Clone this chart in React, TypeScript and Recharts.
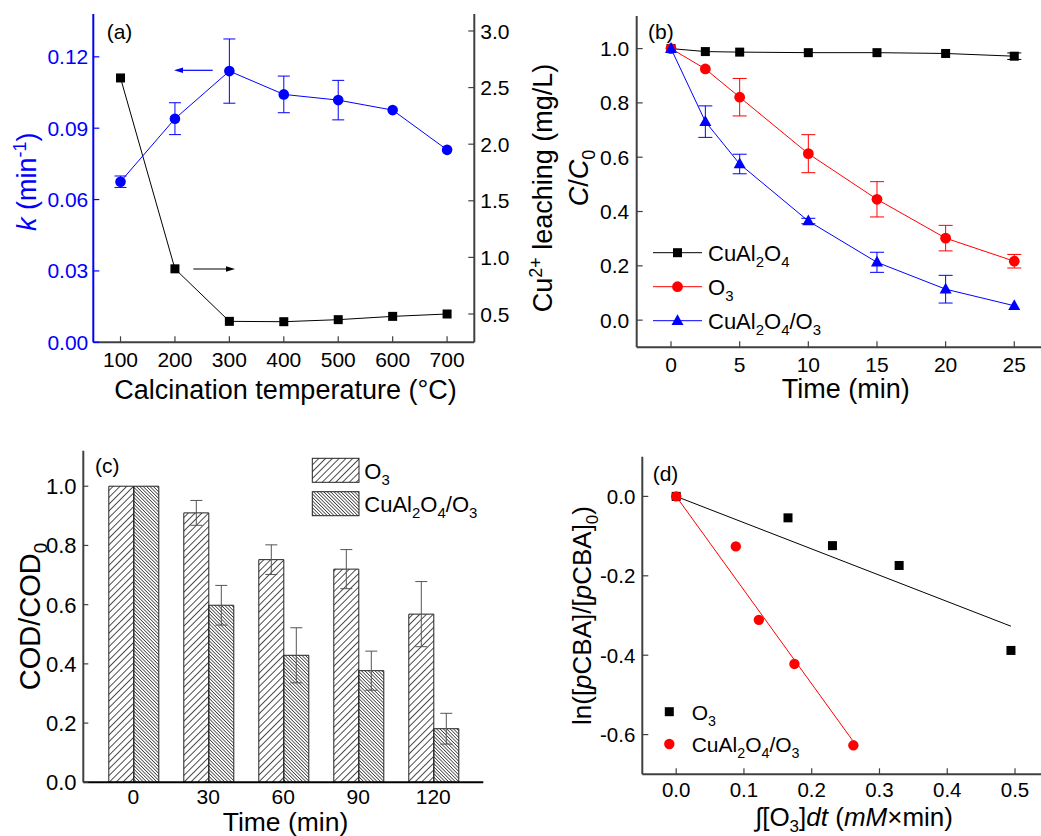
import React from 'react';
import { LineChart, Line, XAxis, YAxis, ErrorBar, BarChart, Bar, ComposedChart, Scatter } from 'recharts';

const FONT = '"Liberation Sans", Arial, Helvetica, sans-serif';
const FRAME = '#404040';
const BLUE = '#0000ff';
const RED = '#ff0000';

// ---------- Panel (a) ----------
const tempC = [100, 200, 300, 400, 500, 600, 700];
const kValues = [0.0675, 0.094, 0.114, 0.1042, 0.1018, 0.0976, 0.0809];
const kErrors = [0.0024, 0.0067, 0.0135, 0.0077, 0.0083, 0, 0];
const cuLeach = [2.585, 0.899, 0.435, 0.432, 0.45, 0.479, 0.5];
const tempTicks = [100, 200, 300, 400, 500, 600, 700];
const kTicks = [0, 0.03, 0.06, 0.09, 0.12];
const cuTicks = [0.5, 1.0, 1.5, 2.0, 2.5, 3.0];

// ---------- Panel (b) ----------
const timeB = [0, 2.5, 5, 10, 15, 20, 25];
const cuAlOnly = [1.0, 0.989, 0.987, 0.985, 0.985, 0.982, 0.972];
const cuAlOnlyErr = [0, 0, 0, 0, 0, 0, 0.012];
const o3Only = [1.0, 0.925, 0.821, 0.613, 0.445, 0.302, 0.217];
const o3OnlyErr = [0, 0, 0.069, 0.07, 0.065, 0.047, 0.025];
const cuO3 = [1.0, 0.731, 0.575, 0.365, 0.213, 0.114, 0.053];
const cuO3Err = [0, 0.058, 0.036, 0.01, 0.037, 0.051, 0];
const timeBTicks = [0, 5, 10, 15, 20, 25];
const ccTicks = [0, 0.2, 0.4, 0.6, 0.8, 1.0];

// ---------- Panel (c) ----------
const timeC = ['0', '30', '60', '90', '120'];
const codO3 = [1.0, 0.91, 0.752, 0.72, 0.568];
const codO3Err = [0, 0.042, 0.05, 0.066, 0.11];
const codCu = [1.0, 0.598, 0.429, 0.377, 0.181];
const codCuErr = [0, 0.067, 0.093, 0.066, 0.052];
const codTicks = [0, 0.2, 0.4, 0.6, 0.8, 1.0];

// ---------- Panel (d) ----------
const o3X = [0, 0.165, 0.2306, 0.329, 0.494];
const o3Y = [0, -0.054, -0.124, -0.174, -0.388];
const cuX = [0, 0.088, 0.122, 0.1745, 0.2615];
const cuY = [0, -0.126, -0.311, -0.422, -0.627];
const o3FitX = [0, 0.494];
const o3FitY = [0, -0.327];
const cuFitX = [0, 0.26];
const cuFitY = [0, -0.614];
const expTicks = [0, 0.1, 0.2, 0.3, 0.4, 0.5];
const lnTicks = [0, -0.2, -0.4, -0.6];

const dataA = tempC.map((t, i) => ({ t, k: kValues[i], kErr: kErrors[i], cu: cuLeach[i] }));
const dataB = timeB.map((t, i) => ({
  t,
  a: cuAlOnly[i], aE: cuAlOnlyErr[i],
  o: o3Only[i], oE: o3OnlyErr[i],
  c: cuO3[i], cE: cuO3Err[i],
}));
const dataC = timeC.map((t, i) => ({ t, o3: codO3[i], o3E: codO3Err[i], cu: codCu[i], cuE: codCuErr[i] }));
const o3Pts = o3X.map((x, i) => ({ x, y: o3Y[i] }));
const cuPts = cuX.map((x, i) => ({ x, y: cuY[i] }));
const o3Fit = o3FitX.map((x, i) => ({ x, y: o3FitY[i] }));
const cuFit = cuFitX.map((x, i) => ({ x, y: cuFitY[i] }));

type Side = 'bottom' | 'left' | 'right';
function tickFactory(side: Side, fmt: (v: any) => string, opts: { len?: number; gap?: number; color?: string; lineColor?: string; fontSize?: number } = {}) {
  const { len = 6, gap = 6, color = '#000', lineColor = FRAME, fontSize = 21 } = opts;
  return (props: any) => {
    const { x, y, payload, index } = props;
    const s = fmt(payload?.value);
    if (side === 'bottom') {
      return (
        <g key={`tb${index}`}>
          {len > 0 && <line x1={x} y1={y} x2={x} y2={y - len} stroke={lineColor} strokeWidth={1.2} />}
          <text x={x} y={y + gap} textAnchor="middle" fill={color} fontSize={fontSize} fontFamily={FONT}>{s}</text>
        </g>
      );
    }
    if (side === 'left') {
      return (
        <g key={`tl${index}`}>
          {len > 0 && <line x1={x} y1={y} x2={x + len} y2={y} stroke={lineColor} strokeWidth={1.2} />}
          <text x={x - gap} y={y} dy="0.36em" textAnchor="end" fill={color} fontSize={fontSize} fontFamily={FONT}>{s}</text>
        </g>
      );
    }
    return (
      <g key={`tr${index}`}>
        {len > 0 && <line x1={x} y1={y} x2={x - len} y2={y} stroke={lineColor} strokeWidth={1.2} />}
        <text x={x + gap} y={y} dy="0.36em" textAnchor="start" fill={color} fontSize={fontSize} fontFamily={FONT}>{s}</text>
      </g>
    );
  };
}

const f0 = (v: any) => String(v);
const f1 = (v: any) => Number(v).toFixed(1);
const f2 = (v: any) => Number(v).toFixed(2);

const squareDot = (size: number, color: string) => (p: any) => {
  if (p.cx == null || p.cy == null) return <g key={`n${p.index}`} />;
  return <rect key={`s${p.index}`} x={p.cx - size / 2} y={p.cy - size / 2} width={size} height={size} fill={color} />;
};
const circleDot = (r: number, color: string) => (p: any) => {
  if (p.cx == null || p.cy == null) return <g key={`n${p.index}`} />;
  return <circle key={`c${p.index}`} cx={p.cx} cy={p.cy} r={r} fill={color} />;
};
const triDot = (w: number, color: string) => (p: any) => {
  if (p.cx == null || p.cy == null) return <g key={`n${p.index}`} />;
  const h = w * 0.9;
  const pts = `${p.cx},${p.cy - h * 0.6} ${p.cx - w / 2},${p.cy + h * 0.4} ${p.cx + w / 2},${p.cy + h * 0.4}`;
  return <polygon key={`t${p.index}`} points={pts} fill={color} />;
};

const frameLine = { stroke: FRAME, strokeWidth: 2 };

function F({ parts, fs }: { parts: (string | [string])[]; fs: number }) {
  const out: any[] = [];
  let down = false;
  const d = Math.round(fs * 0.28);
  parts.forEach((p, i) => {
    if (Array.isArray(p)) {
      out.push(<tspan key={i} dy={down ? 0 : d} fontSize={fs * 0.68}>{p[0]}</tspan>);
      down = true;
    } else {
      out.push(<tspan key={i} dy={down ? -d : 0} fontSize={fs}>{p}</tspan>);
      down = false;
    }
  });
  return <>{out}</>;
}

function PanelA() {
  return (
    <LineChart width={540} height={410} data={dataA} margin={{ top: 14, right: 0, bottom: 0, left: 0 }}>
      <XAxis dataKey="t" type="number" domain={[50, 750]} ticks={tempTicks} interval={0} height={67.7}
        tickSize={0} tickMargin={0} tickLine={false} axisLine={frameLine}
        tick={tickFactory('bottom', f0, { gap: 24.6 })} allowDataOverflow />
      <XAxis xAxisId="top" dataKey="t" type="number" domain={[50, 750]} orientation="top" height={0}
        tick={false} tickLine={false} axisLine={frameLine} allowDataOverflow />
      <YAxis yAxisId="k" type="number" domain={[0, 0.138]} ticks={kTicks} interval={0} width={93.3}
        tickSize={0} tickMargin={0} tickLine={false} axisLine={{ stroke: BLUE, strokeWidth: 2 }}
        tick={tickFactory('left', f2, { gap: 5, color: BLUE, lineColor: BLUE })} allowDataOverflow />
      <YAxis yAxisId="cu" orientation="right" type="number" domain={[0.25, 3.15]} ticks={cuTicks} interval={0} width={65.7}
        tickSize={0} tickMargin={0} tickLine={false} axisLine={frameLine}
        tick={tickFactory('right', f1, { gap: 6 })} allowDataOverflow />
      <Line yAxisId="cu" dataKey="cu" stroke="#000" strokeWidth={1} dot={squareDot(9, '#000')} activeDot={false} isAnimationActive={false} />
      <Line yAxisId="k" dataKey="k" stroke={BLUE} strokeWidth={1} dot={circleDot(5.3, BLUE)} activeDot={false} isAnimationActive={false}>
        <ErrorBar dataKey="kErr" direction="y" width={6} stroke={BLUE} strokeWidth={1} />
      </Line>
    </LineChart>
  );
}

function PanelB() {
  return (
    <LineChart width={540} height={410} data={dataB} margin={{ top: 16, right: 11.4, bottom: 0, left: 0 }}>
      <XAxis dataKey="t" type="number" domain={[-2.5, 27.5]} ticks={timeBTicks} interval={0} height={62.7}
        tickSize={0} tickMargin={0} tickLine={false} axisLine={frameLine}
        tick={tickFactory('bottom', f0, { gap: 24.6 })} allowDataOverflow />
      <XAxis xAxisId="top" dataKey="t" type="number" domain={[-2.5, 27.5]} orientation="top" height={0}
        tick={false} tickLine={false} axisLine={frameLine} allowDataOverflow />
      <YAxis type="number" domain={[-0.1, 1.12]} ticks={ccTicks} interval={0} width={116.7}
        tickSize={0} tickMargin={0} tickLine={false} axisLine={frameLine}
        tick={tickFactory('left', f1, { gap: 7.5 })} allowDataOverflow />
      <Line dataKey="a" stroke="#000" strokeWidth={1} dot={squareDot(9, '#000')} activeDot={false} isAnimationActive={false}>
        <ErrorBar dataKey="aE" direction="y" width={7} stroke="#000" strokeWidth={1} />
      </Line>
      <Line dataKey="o" stroke={RED} strokeWidth={1} dot={circleDot(5.4, RED)} activeDot={false} isAnimationActive={false}>
        <ErrorBar dataKey="oE" direction="y" width={7} stroke={RED} strokeWidth={1} />
      </Line>
      <Line dataKey="c" stroke={BLUE} strokeWidth={1} dot={triDot(12, BLUE)} activeDot={false} isAnimationActive={false}>
        <ErrorBar dataKey="cE" direction="y" width={7} stroke={BLUE} strokeWidth={1} />
      </Line>
    </LineChart>
  );
}

function PanelC() {
  return (
    <BarChart width={540} height={396} data={dataC} margin={{ top: 10.7, right: 56.7, bottom: 0, left: 0 }} barGap={0} barSize={25}>
      <XAxis dataKey="t" padding={{ left: 12.5, right: 12.5 }} interval={0} height={53.7}
        tickSize={0} tickMargin={0} tickLine={false} axisLine={{ stroke: '#000', strokeWidth: 2 }}
        tick={tickFactory('bottom', f0, { gap: 21.5, len: 0, fontSize: 21 })} />
      <XAxis xAxisId="top" dataKey="t" orientation="top" height={0} tick={false} tickLine={false} axisLine={frameLine} />
      <YAxis type="number" domain={[0, 1.12]} ticks={codTicks} interval={0} width={83.3}
        tickSize={0} tickMargin={0} tickLine={false} axisLine={frameLine}
        tick={tickFactory('left', f1, { gap: 6.7, fontSize: 22, len: 5 })} allowDataOverflow />
      <YAxis yAxisId="r" orientation="right" type="number" domain={[0, 1.12]} width={0} tick={false} tickLine={false} axisLine={frameLine} />
      <Bar dataKey="o3" fill="url(#hatchO3)" stroke="#222" strokeWidth={1} isAnimationActive={false}>
        <ErrorBar dataKey="o3E" direction="y" width={6} stroke="#555" strokeWidth={1} />
      </Bar>
      <Bar dataKey="cu" fill="url(#hatchCu)" stroke="#222" strokeWidth={1} isAnimationActive={false}>
        <ErrorBar dataKey="cuE" direction="y" width={6} stroke="#555" strokeWidth={1} />
      </Bar>
    </BarChart>
  );
}

function PanelD() {
  return (
    <ComposedChart width={540} height={396} margin={{ top: 16.7, right: 11.1, bottom: 0, left: 0 }}>
      <XAxis dataKey="x" type="number" domain={[-0.05, 0.55]} ticks={expTicks} interval={0} height={61.7}
        tickSize={0} tickMargin={0} tickLine={false} axisLine={frameLine}
        tick={tickFactory('bottom', f1, { gap: 22.4, fontSize: 20.5 })} allowDataOverflow />
      <XAxis xAxisId="top" dataKey="x" type="number" domain={[-0.05, 0.55]} orientation="top" height={0}
        tick={false} tickLine={false} axisLine={frameLine} allowDataOverflow />
      <YAxis type="number" domain={[-0.7, 0.1]} ticks={lnTicks} interval={0} width={122.3}
        tickSize={0} tickMargin={0} tickLine={false} axisLine={frameLine}
        tick={tickFactory('left', f1, { gap: 7, fontSize: 20.5 })} allowDataOverflow />
      <Line data={o3Fit} dataKey="y" stroke="#000" strokeWidth={1} dot={false} activeDot={false} isAnimationActive={false} />
      <Line data={cuFit} dataKey="y" stroke={RED} strokeWidth={1} dot={false} activeDot={false} isAnimationActive={false} />
      <Scatter data={o3Pts} dataKey="y" isAnimationActive={false}
        shape={(p: any) => <rect x={p.cx - 4.5} y={p.cy - 4.5} width={9} height={9} fill="#000" />} />
      <Scatter data={cuPts} dataKey="y" isAnimationActive={false}
        shape={(p: any) => <circle cx={p.cx} cy={p.cy} r={5.2} fill={RED} />} />
    </ComposedChart>
  );
}

function Overlay() {
  const t = { fontFamily: FONT, fill: '#000' } as any;
  return (
    <svg width={1041} height={836} style={{ position: 'absolute', left: 0, top: 0, pointerEvents: 'none' }}>
      <defs>
        <pattern id="hatchO3" width="4.8" height="4.8" patternUnits="userSpaceOnUse" patternTransform="rotate(45)">
          <line x1="2.4" y1="-1" x2="2.4" y2="6" stroke="#222" strokeWidth="0.8" />
        </pattern>
        <pattern id="hatchCu" width="2.4" height="2.4" patternUnits="userSpaceOnUse" patternTransform="rotate(-45)">
          <line x1="1.2" y1="-1" x2="1.2" y2="4" stroke="#222" strokeWidth="0.7" />
        </pattern>
      </defs>

      {/* Panel (a) */}
      <text x={106.7} y={39} fontSize={21} {...t}>(a)</text>
      <text transform="translate(36,181.7) rotate(-90)" textAnchor="middle" fontSize={27} fontFamily={FONT} fill={BLUE}>
        <tspan fontStyle="italic">k</tspan><tspan> (min</tspan><tspan dy={-10} fontSize={18}>-1</tspan><tspan dy={10}>)</tspan>
      </text>
      <text transform="translate(552,188) rotate(-90)" textAnchor="middle" fontSize={27} {...t}>
        <tspan>Cu</tspan><tspan dy={-10} fontSize={18}>2+</tspan><tspan dy={10}> leaching (mg/L)</tspan>
      </text>
      <text x={285.5} y={399} textAnchor="middle" fontSize={27} {...t}>Calcination temperature (°C)</text>
      <line x1={212.7} y1={70.3} x2={181} y2={70.3} stroke={BLUE} strokeWidth={1.2} />
      <polygon points="174,70.3 183,67.6 183,73" fill={BLUE} />
      <line x1={193.3} y1={269} x2={228} y2={269} stroke="#000" strokeWidth={1.2} />
      <polygon points="235,269 226,266.3 226,271.7" fill="#000" />

      {/* Panel (b) */}
      <text x={648} y={38.5} fontSize={21} {...t}>(b)</text>
      <text transform="translate(588,178) rotate(-90)" textAnchor="middle" fontSize={27} {...t}>
        <tspan fontStyle="italic">C</tspan><tspan>/</tspan><tspan fontStyle="italic">C</tspan><tspan dy={7} fontSize={18}>0</tspan>
      </text>
      <text x={845.8} y={398.3} textAnchor="middle" fontSize={27} {...t}>Time (min)</text>
      <line x1={653} y1={252.7} x2={702} y2={252.7} stroke="#000" strokeWidth={1} />
      <rect x={677.5 - 4.5} y={252.7 - 4.5} width={9} height={9} fill="#000" />
      <text x={708} y={260.5} fontSize={22} {...t}><F fs={22} parts={['CuAl', ['2'], 'O', ['4']]} /></text>
      <line x1={653} y1={286.7} x2={702} y2={286.7} stroke={RED} strokeWidth={1} />
      <circle cx={677.5} cy={286.7} r={5.4} fill={RED} />
      <text x={708} y={294.5} fontSize={22} {...t}><F fs={22} parts={['O', ['3']]} /></text>
      <line x1={653} y1={320.7} x2={702} y2={320.7} stroke={BLUE} strokeWidth={1} />
      <polygon points={`677.5,${320.7 - 6.5} ${671.5},${320.7 + 4.3} ${683.5},${320.7 + 4.3}`} fill={BLUE} />
      <text x={708} y={328.5} fontSize={22} {...t}><F fs={22} parts={['CuAl', ['2'], 'O', ['4'], '/O', ['3']]} /></text>

      {/* Panel (c) */}
      <text x={95} y={472.5} fontSize={21} {...t}>(c)</text>
      <text transform="translate(40,616.5) rotate(-90)" textAnchor="middle" fontSize={29} {...t}>
        <tspan>COD/COD</tspan><tspan dy={7} fontSize={19}>0</tspan>
      </text>
      <text x={285.5} y={831} textAnchor="middle" fontSize={26.5} {...t}>Time (min)</text>
      <rect x={312.3} y={458.3} width={46.7} height={24} fill="url(#hatchO3)" stroke="#222" strokeWidth={1} />
      <text x={364.3} y={479} fontSize={22} {...t}><F fs={22} parts={['O', ['3']]} /></text>
      <rect x={312.3} y={491.7} width={46.7} height={24} fill="url(#hatchCu)" stroke="#222" strokeWidth={1} />
      <text x={364.3} y={511.7} fontSize={22} {...t}><F fs={22} parts={['CuAl', ['2'], 'O', ['4'], '/O', ['3']]} /></text>

      {/* Panel (d) */}
      <text x={652.7} y={480.5} fontSize={21} {...t}>(d)</text>
      <text transform="translate(591,615.5) rotate(-90)" textAnchor="middle" fontSize={26} {...t}>
        <tspan>ln([</tspan><tspan fontStyle="italic">p</tspan><tspan>CBA]/[</tspan><tspan fontStyle="italic">p</tspan><tspan>CBA]</tspan><tspan dy={7} fontSize={17}>0</tspan><tspan dy={-7}>)</tspan>
      </text>
      <text x={854} y={826} textAnchor="middle" fontSize={26} {...t}>
        <tspan>∫[O</tspan><tspan dy={6} fontSize={17}>3</tspan><tspan dy={-6}>]</tspan><tspan fontStyle="italic">dt</tspan><tspan> (</tspan><tspan fontStyle="italic">mM</tspan><tspan>×min)</tspan>
      </text>
      <rect x={669.3 - 4.5} y={711.7 - 4.5} width={9} height={9} fill="#000" />
      <text x={691.7} y={720} fontSize={21} {...t}><F fs={21} parts={['O', ['3']]} /></text>
      <circle cx={669.3} cy={744} r={5.2} fill={RED} />
      <text x={691.7} y={751.5} fontSize={21} {...t}><F fs={21} parts={['CuAl', ['2'], 'O', ['4'], '/O', ['3']]} /></text>
    </svg>
  );
}

export default function App() {
  return (
    <div style={{ position: 'absolute', left: 0, top: 0, width: 1041, height: 836, overflow: 'hidden', background: '#fff', fontFamily: FONT }}>
      <div style={{ position: 'absolute', left: 0, top: 0 }}><PanelA /></div>
      <div style={{ position: 'absolute', left: 520, top: 0 }}><PanelB /></div>
      <div style={{ position: 'absolute', left: 0, top: 440 }}><PanelC /></div>
      <div style={{ position: 'absolute', left: 520, top: 440 }}><PanelD /></div>
      <Overlay />
    </div>
  );
}
